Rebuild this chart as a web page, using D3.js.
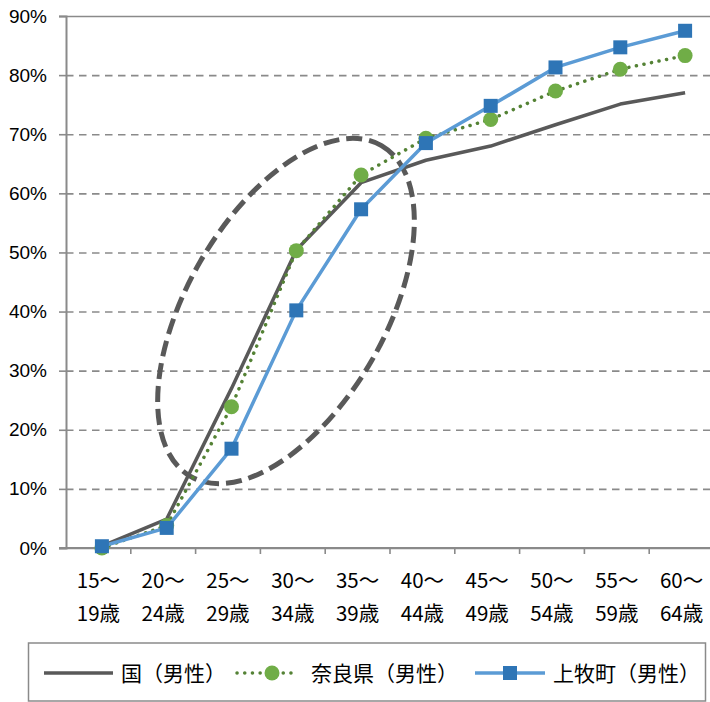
<!DOCTYPE html>
<html>
<head>
<meta charset="utf-8">
<script src="https://cdn.jsdelivr.net/npm/d3@7"></script>
<style>
  html, body { margin: 0; padding: 0; background: #fff; }
  svg { display: block; font-family: "Noto Sans CJK JP", "Noto Sans", sans-serif; }
</style>
</head>
<body>
<svg id="chart" width="710" height="702"></svg>
<script>
// Age groups (two-line labels)
const ageTop = ["15～", "20～", "25～", "30～", "35～", "40～", "45～", "50～", "55～", "60～"];
const ageBottom = ["19歳", "24歳", "29歳", "34歳", "39歳", "44歳", "49歳", "54歳", "59歳", "64歳"];
const categories = ageTop.map((t, i) => t + ageBottom[i]);

// Male rates (%) by age group
const national = [0.3, 4.9, 27.0, 50.4, 61.8, 65.6, 68.0, 71.6, 75.1, 77.0];
const nara = [0.0, 3.8, 23.9, 50.3, 63.1, 69.3, 72.5, 77.3, 81.0, 83.3];
const kanmaki = [0.3, 3.4, 16.8, 40.2, 57.3, 68.5, 74.8, 81.3, 84.7, 87.5];

const seriesNames = ["国（男性）", "奈良県（男性）", "上牧町（男性）"];
const yTicks = [0, 10, 20, 30, 40, 50, 60, 70, 80, 90];

const svg = d3.select("#chart");

const x = d3.scaleBand().domain(categories).range([66, 714]).padding(0);
const y = d3.scaleLinear().domain([0, 90]).range([548, 16]);
const px = c => x(c) + x.bandwidth() / 2 + 3.5;

// Horizontal gridlines
const grid = svg.append("g").attr("transform", "translate(66,0)")
  .call(d3.axisLeft(y).tickValues(yTicks).tickSize(-646).tickFormat(""));
grid.select(".domain").remove();
grid.selectAll(".tick line")
  .attr("stroke", "#8a8a8a").attr("stroke-width", 1.6)
  .attr("stroke-dasharray", d => (d === 90 || d === 0) ? null : "7.5,5.5");

// Y axis with tick marks and percentage labels
const yAxis = svg.append("g").attr("transform", "translate(66,0)")
  .call(d3.axisLeft(y).tickValues(yTicks).tickSize(7).tickPadding(12).tickFormat(d => d + "%"));
yAxis.select(".domain").attr("stroke", "#8a8a8a").attr("stroke-width", 2);
yAxis.selectAll(".tick line").attr("stroke", "#8a8a8a").attr("stroke-width", 1.6);
yAxis.selectAll(".tick text").attr("font-size", 19).attr("fill", "#000")
  .attr("font-family", "'Liberation Sans', Arial, sans-serif");

// X axis with category ticks at band edges
const xAxis = svg.append("g").attr("transform", "translate(0,548)");
xAxis.append("line").attr("x1", 59).attr("x2", 714).attr("y1", 0).attr("y2", 0)
  .attr("stroke", "#8a8a8a").attr("stroke-width", 2);
xAxis.selectAll(".xt").data(categories).enter().append("line")
  .attr("x1", d => x(d) + x.bandwidth()).attr("x2", d => x(d) + x.bandwidth())
  .attr("y1", 0).attr("y2", 6).attr("stroke", "#8a8a8a").attr("stroke-width", 1.6);
const xl = xAxis.selectAll(".xl").data(categories).enter().append("text")
  .attr("x", d => x(d) + x.bandwidth() / 2)
  .attr("text-anchor", "middle").attr("font-size", 20.5).attr("fill", "#000");
xl.append("tspan").attr("x", d => x(d) + x.bandwidth() / 2).attr("y", 40)
  .text((d, i) => ageTop[i]);
xl.append("tspan").attr("x", d => x(d) + x.bandwidth() / 2).attr("y", 73)
  .text((d, i) => ageBottom[i]);

// Dashed ellipse highlighting the 25–39 range
svg.append("ellipse")
  .attr("cx", 0).attr("cy", 0).attr("rx", 191).attr("ry", 99)
  .attr("transform", "translate(286,311) rotate(-60)")
  .attr("fill", "none").attr("stroke", "#595959").attr("stroke-width", 5)
  .attr("stroke-dasharray", "16,7");

const line = d3.line().x(d => px(d.c)).y(d => y(d.v));
const pts = arr => arr.map((v, i) => ({ c: categories[i], v }));

// National (solid dark grey)
svg.append("path").datum(pts(national)).attr("d", line)
  .attr("fill", "none").attr("stroke", "#595959").attr("stroke-width", 3.5)
  .attr("stroke-linejoin", "round");

// Nara Prefecture (dotted green with circles)
svg.append("path").datum(pts(nara)).attr("d", line)
  .attr("fill", "none").attr("stroke", "#548235").attr("stroke-width", 3.5)
  .attr("stroke-linecap", "round").attr("stroke-dasharray", "0.1,7.6");
svg.selectAll(".nara").data(pts(nara)).enter().append("circle")
  .attr("cx", d => px(d.c)).attr("cy", d => y(d.v)).attr("r", 7.5)
  .attr("fill", "#70AD47");

// Kanmaki Town (blue with squares)
svg.append("path").datum(pts(kanmaki)).attr("d", line)
  .attr("fill", "none").attr("stroke", "#5B9BD5").attr("stroke-width", 3.5)
  .attr("stroke-linejoin", "round");
svg.selectAll(".kan").data(pts(kanmaki)).enter().append("rect")
  .attr("x", d => px(d.c) - 7).attr("y", d => y(d.v) - 7)
  .attr("width", 14).attr("height", 14).attr("fill", "#2E75B6");

// Legend
const lg = svg.append("g");
lg.append("rect").attr("x", 28.5).attr("y", 643).attr("width", 677).attr("height", 58)
  .attr("fill", "#fff").attr("stroke", "#8a8a8a").attr("stroke-width", 1.5);
const ly = 673;
lg.append("line").attr("x1", 44).attr("x2", 113).attr("y1", ly).attr("y2", ly)
  .attr("stroke", "#595959").attr("stroke-width", 3.5);
lg.append("line").attr("x1", 237).attr("x2", 294).attr("y1", ly).attr("y2", ly)
  .attr("stroke", "#548235").attr("stroke-width", 3.5)
  .attr("stroke-linecap", "round").attr("stroke-dasharray", "0.1,7.6");
lg.append("circle").attr("cx", 272).attr("cy", ly).attr("r", 7.5).attr("fill", "#70AD47");
lg.append("line").attr("x1", 475).attr("x2", 545).attr("y1", ly).attr("y2", ly)
  .attr("stroke", "#5B9BD5").attr("stroke-width", 3.5);
lg.append("rect").attr("x", 503).attr("y", ly - 7).attr("width", 14).attr("height", 14)
  .attr("fill", "#2E75B6");
const lx = [121, 311, 553];
lg.selectAll(".lt").data(seriesNames).enter().append("text")
  .attr("x", (d, i) => lx[i]).attr("y", ly + 7.5).attr("font-size", 21).attr("fill", "#000")
  .text(d => d);
</script>
</body>
</html>
